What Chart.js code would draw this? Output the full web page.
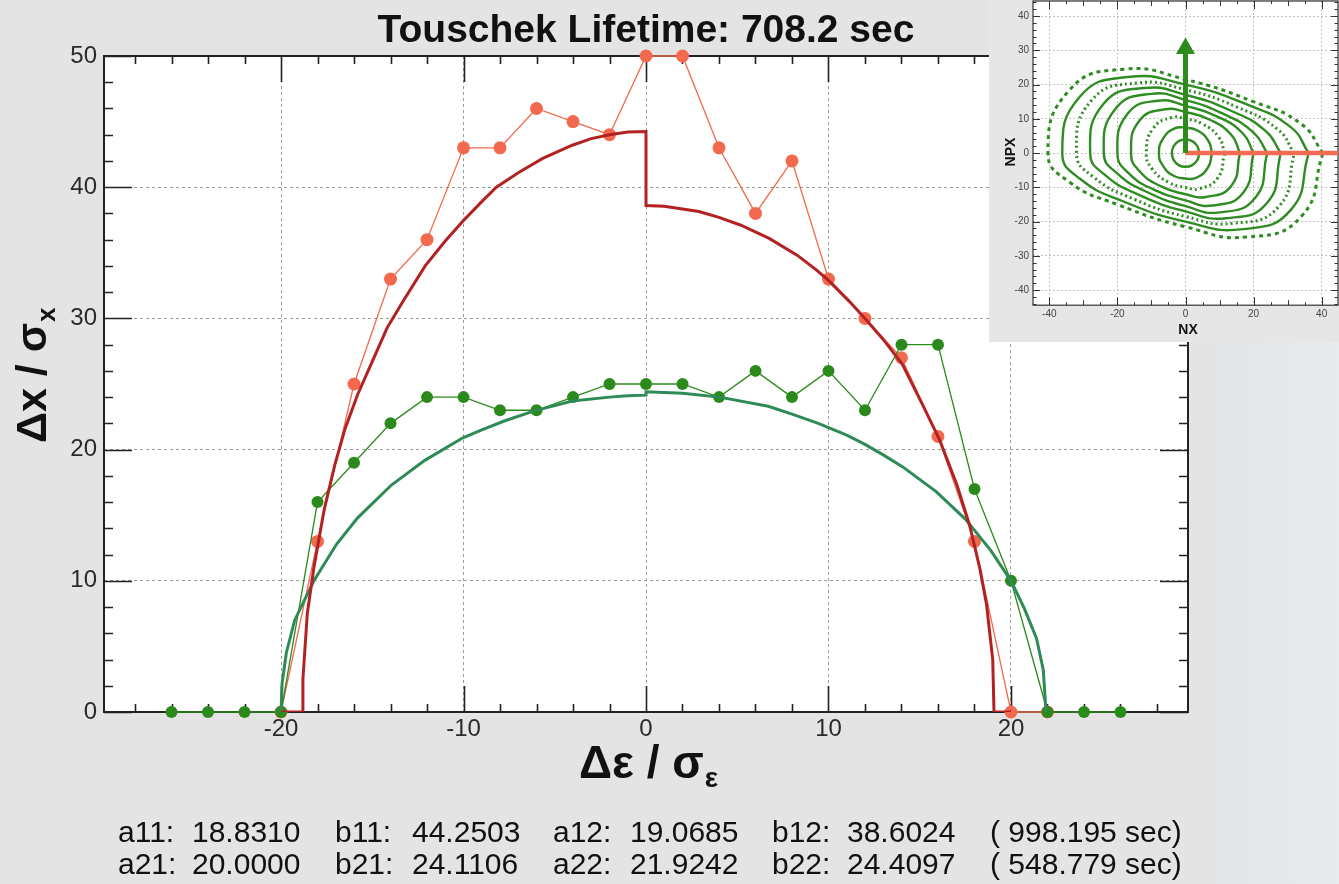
<!DOCTYPE html>
<html>
<head>
<meta charset="utf-8">
<script src="https://cdn.jsdelivr.net/npm/chart.js@4.4.1/dist/chart.umd.min.js"></script>
<style>
  html, body { margin: 0; padding: 0; background: #e4e4e4; overflow: hidden; }
  #wrap { position: relative; width: 1339px; height: 884px; }
  #glare { position: absolute; left: 1217px; top: 0; width: 122px; height: 884px;
           background: linear-gradient(to right, #e3e5e9, #e9eaed); }
  #main { position: absolute; left: 0; top: 0; }
  #inset { position: absolute; left: 989px; top: -10px; }
</style>
</head>
<body>
<div id="wrap">
  <div id="glare"></div>
  <canvas id="main" width="1339" height="884"></canvas>
  <canvas id="inset" width="360" height="352"></canvas>
</div>
<script>
// ---------------------------------------------------------------
// Datos
// ---------------------------------------------------------------
const FONT = '"Liberation Sans", Arial, Helvetica, sans-serif';

const epsTicks = [-20, -10, 0, 10, 20];
const dxTicks = [0, 10, 20, 30, 40, 50];

// centros de los bins en Δε/σε
const binCenters = [-26, -24, -22, -20, -18, -16, -14, -12, -10, -8, -6, -4, -2, 0,
                    2, 4, 6, 8, 10, 12, 14, 16, 18, 20, 22, 24, 26];
// apertura medida (puntos rojos) y (puntos verdes)
const apertureRed = [null, null, null, 0, 13, 25, 33, 36, 43, 43, 46, 45, 44, 50,
                     50, 43, 38, 42, 33, 30, 27, 21, 13, 0, 0, null, null];
const apertureGreen = [0, 0, 0, 0, 16, 19, 22, 24, 24, 23, 23, 24, 25, 25,
                       25, 24, 26, 24, 26, 23, 28, 28, 17, 10, 0, 0, 0];

// curvas ajustadas (leídas punto a punto)
const fitRedX = [-20, -18.83, -18.8, -18.56, -18.2, -17.64, -17.06, -16.49, -15.8, -15.1,
                 -14.18, -13.27, -12.1, -11, -10.04, -9, -8.2, -7, -5.66, -4.04,
                 -3, -2, -1, 0, 0, 1, 2.9, 4, 5.2, 6.75,
                 8.3, 9.33, 10, 11.14, 12, 13, 14.05, 15.2, 16.1, 17.04,
                 17.74, 18.3, 18.66, 19, 19.07, 20];
const fitRedY = [0, 0, 2.5, 7.5, 11, 15.4, 18.8, 21.6, 24.2, 26.4,
                 29.3, 31.4, 34, 35.9, 37.4, 38.9, 40, 41.1, 42.2, 43.2,
                 43.7, 44, 44.2, 44.25, 38.6, 38.55, 38.15, 37.7, 37.1, 36.1,
                 34.8, 33.7, 32.9, 31.3, 30, 28.4, 26.5, 23.3, 20.7, 17.3,
                 14.2, 10.9, 8.2, 4, 0, 0];
const fitGreenX = [-20, -19.94, -19.71, -19.25, -18.2, -16.95, -15.8, -13.95, -12.1, -10.03,
                   -9, -7.73, -6.12, -5, -4.04, -2, -1, 0, 0, 2,
                   4.03, 6.7, 8, 9.44, 11, 12, 13, 14.05, 15.9, 17.5,
                   18.9, 20, 20.73, 21.4, 21.77, 21.92];
const fitGreenY = [0, 2.2, 4.5, 7, 10, 12.8, 14.8, 17.3, 19.2, 20.9,
                   21.5, 22.2, 22.95, 23.35, 23.7, 24, 24.1, 24.15, 24.4, 24.3,
                   24, 23.3, 22.7, 22, 21.1, 20.4, 19.6, 18.7, 16.8, 14.7,
                   12.3, 10, 7.9, 5.6, 3.2, 0];

const fitNames = [['a11', 'b11', 'a12', 'b12'], ['a21', 'b21', 'a22', 'b22']];
const fitValues = [[18.8310, 44.2503, 19.0685, 38.6024], [20.0000, 24.1106, 21.9242, 24.4097]];
const lifetimes = [998.195, 548.779];
const touschek = 708.2;

// inserto: espacio de fases (NX, NPX)
const phaseTicksX = [-40, -20, 0, 20, 40];
const phaseTicksY = [-40, -30, -20, -10, 0, 10, 20, 30, 40];
const ring1 = [[4,0],[3.5,2],[2,3.5],[0,4],[-2,3.5],[-3.5,2],[-4,0],[-3.5,-2],[-2,-3.5],[0,-4],[2,-3.5],[3.5,-2],[4,0]];
const ring2 = [[7.8,0],[6.7,3.6],[3.5,6.6],[0,7.4],[-3.2,7.2],[-6.6,4.2],[-7.8,0],[-6.7,-3.6],[-3.5,-6.6],[0,-7.4],[3.2,-7.2],[6.6,-4.2],[7.8,0]];
const ring3 = [[11.5,0],[9.8,4.6],[5,8.5],[0,10],[-4,10.4],[-9.5,7.2],[-11.5,0],[-9.8,-4.6],[-5,-8.5],[0,-10],[4,-10.4],[9.5,-7.2],[11.5,0]];
const ring4 = [[16,0],[13.5,5.3],[7,9.8],[0,12],[-6,12.8],[-13.5,9.5],[-16,0],[-13.5,-5.3],[-7,-9.8],[0,-12],[6,-12.8],[13.5,-9.5],[16,0]];
const ring5 = [[20,0],[16.8,5.8],[9,10.8],[0,13.8],[-8,15.3],[-17,11.5],[-20,0],[-16.8,-5.8],[-9,-10.8],[0,-13.8],[8,-15.3],[17,-11.5],[20,0]];
const ring6 = [[24,0],[20,6],[11,11.5],[0,15.5],[-10,17.3],[-20.5,13],[-24,0],[-20,-6],[-11,-11.5],[0,-15.5],[10,-17.3],[20.5,-13],[24,0]];
const ring7 = [[28,0],[23.5,6.5],[13,12.5],[0,17],[-12,19],[-24,14.5],[-28,0],[-23.5,-6.5],[-13,-12.5],[0,-17],[12,-19],[24,-14.5],[28,0]];
const ring8 = [[32,0],[27,7],[15,13.5],[0,18.5],[-14,20.5],[-27.5,15.5],[-32,0],[-27,-7],[-15,-13.5],[0,-18.5],[14,-20.5],[27.5,-15.5],[32,0]];
const ring9 = [[36.2,0],[31,7.5],[18,14.2],[0,20],[-17,22.2],[-31,16.5],[-36.2,0],[-31,-7.5],[-18,-14.2],[0,-20],[17,-22.2],[31,-16.5],[36.2,0]];
const ring10 = [[40.4,0],[34,8.5],[20,15],[0,21.5],[-18,24.5],[-34,18.5],[-40.4,0],[-34,-8.5],[-20,-15],[0,-21.5],[18,-24.5],[34,-18.5],[40.4,0]];
const rings = [ring1, ring2, ring3, ring4, ring5, ring6, ring7, ring8, ring9, ring10];
const ringDotted = [false, false, true, false, false, false, false, true, false, true];
const arrowTop = 29;
const arrowHead = 30.5;
const kickEnd = 45;

function pts(xs, ys) {
    return xs.map((x, i) => ({ x: x, y: ys[i] }));
}

// ---------------------------------------------------------------
// Gráfico principal
// ---------------------------------------------------------------
const mainDeco = {
    id: 'mainDeco',
    beforeDraw(chart) {
        const { ctx, chartArea: a } = chart;
        ctx.save();
        ctx.fillStyle = '#ffffff';
        ctx.fillRect(a.left, a.top, a.right - a.left, a.bottom - a.top);
        ctx.restore();
    },
    beforeDatasetsDraw(chart) {
        const { ctx, chartArea: a } = chart;
        const xs = chart.scales.x, ys = chart.scales.y;
        ctx.save();
        ctx.strokeStyle = '#222';
        ctx.lineWidth = 1.6;
        ctx.beginPath();
        for (let v = -28; v <= 28; v += 2) {
            const px = Math.round(xs.getPixelForValue(v)) + 0.5;
            const len = v % 10 === 0 ? 26 : 8;
            ctx.moveTo(px, a.bottom); ctx.lineTo(px, a.bottom - len);
            ctx.moveTo(px, a.top); ctx.lineTo(px, a.top + len);
        }
        for (let v = 0; v <= 50; v += 2) {
            const py = Math.round(ys.getPixelForValue(v)) + 0.5;
            const len = v % 10 === 0 ? 28 : 9;
            ctx.moveTo(a.left, py); ctx.lineTo(a.left + len, py);
            ctx.moveTo(a.right, py); ctx.lineTo(a.right - len, py);
        }
        ctx.stroke();
        ctx.lineWidth = 2;
        ctx.strokeRect(a.left, a.top, a.right - a.left, a.bottom - a.top);
        ctx.restore();
    },
    afterDraw(chart) {
        const ctx = chart.ctx;
        ctx.save();
        ctx.fillStyle = '#111';
        ctx.textBaseline = 'alphabetic';

        // título
        ctx.font = 'bold 39px ' + FONT;
        ctx.textAlign = 'center';
        ctx.fillText('Touschek Lifetime: ' + touschek.toFixed(1) + ' sec', 646, 42);

        // título eje X
        ctx.textAlign = 'left';
        ctx.font = 'bold 46px ' + FONT;
        const xMain = 'Δε / σ';
        ctx.fillText(xMain, 579, 778);
        const wx = ctx.measureText(xMain).width;
        ctx.font = 'bold 28px ' + FONT;
        ctx.fillText('ε', 579 + wx + 1, 787);

        // título eje Y (rotado)
        ctx.save();
        ctx.translate(46, 443);
        ctx.rotate(-Math.PI / 2);
        ctx.font = 'bold 43px ' + FONT;
        const yMain = 'Δx / σ';
        ctx.fillText(yMain, 0, 0);
        const wy = ctx.measureText(yMain).width;
        ctx.font = 'bold 26px ' + FONT;
        ctx.fillText('x', wy + 1, 9);
        ctx.restore();

        // parámetros del ajuste
        ctx.font = '30px ' + FONT;
        const nameX = [118, 335, 553, 772];
        const valX = [192, 412, 630, 847];
        const rowY = [842, 874];
        for (let r = 0; r < 2; r++) {
            for (let c = 0; c < 4; c++) {
                ctx.fillText(fitNames[r][c] + ':', nameX[c], rowY[r]);
                ctx.fillText(fitValues[r][c].toFixed(4), valX[c], rowY[r]);
            }
            ctx.fillText('( ' + lifetimes[r].toFixed(3) + ' sec)', 990, rowY[r]);
        }
        ctx.restore();
    }
};

window.graficoPrincipal = new Chart(document.getElementById('main'), {
    type: 'line',
    data: {
        datasets: [
            {
                label: 'ajuste 1',
                data: pts(fitRedX, fitRedY),
                borderColor: '#b22222',
                borderWidth: 3,
                pointRadius: 0,
                tension: 0,
                order: 0
            },
            {
                label: 'ajuste 2',
                data: pts(fitGreenX, fitGreenY),
                borderColor: '#2e8b57',
                borderWidth: 3,
                pointRadius: 0,
                tension: 0,
                order: 1
            },
            {
                label: 'apertura 2',
                data: pts(binCenters, apertureGreen),
                borderColor: '#2c8a1c',
                backgroundColor: '#2c8a1c',
                borderWidth: 1.3,
                pointRadius: 6,
                pointBorderWidth: 0,
                clip: false,
                order: 2
            },
            {
                label: 'apertura 1',
                data: pts(binCenters, apertureRed),
                borderColor: '#f2694e',
                backgroundColor: '#f2694e',
                borderWidth: 1.3,
                pointRadius: 6.5,
                pointBorderWidth: 0,
                clip: false,
                order: 3
            }
        ]
    },
    options: {
        responsive: false,
        animation: false,
        devicePixelRatio: 1,
        layout: { padding: { top: 56, right: 151, left: 0, bottom: 0 } },
        plugins: { legend: { display: false }, tooltip: { enabled: false } },
        scales: {
            x: {
                type: 'linear',
                min: -29.7,
                max: 29.7,
                afterBuildTicks: s => { s.ticks = epsTicks.map(v => ({ value: v })); },
                afterFit: s => { s.height = 172; },
                grid: { color: '#9c9c9c', lineWidth: 1, drawTicks: false },
                border: { display: false, dash: [3, 3] },
                ticks: { font: { family: FONT, size: 24 }, color: '#2a2a2a', padding: 3, maxRotation: 0, autoSkip: false }
            },
            y: {
                type: 'linear',
                min: 0,
                max: 50,
                afterBuildTicks: s => { s.ticks = dxTicks.map(v => ({ value: v })); },
                afterFit: s => { s.width = 104; },
                grid: { color: '#9c9c9c', lineWidth: 1, drawTicks: false },
                border: { display: false, dash: [3, 3] },
                ticks: { font: { family: FONT, size: 24 }, color: '#2a2a2a', padding: 7, autoSkip: false }
            }
        }
    },
    plugins: [mainDeco]
});

// ---------------------------------------------------------------
// Inserto del espacio de fases
// ---------------------------------------------------------------
const insetDeco = {
    id: 'insetDeco',
    beforeDraw(chart) {
        const { ctx, chartArea: a, width, height } = chart;
        ctx.save();
        ctx.fillStyle = '#e6e6e6';
        ctx.fillRect(0, 0, width, height);
        ctx.fillStyle = '#ffffff';
        ctx.fillRect(a.left, a.top, a.right - a.left, a.bottom - a.top);
        ctx.restore();
    },
    beforeDatasetsDraw(chart) {
        const { ctx, chartArea: a } = chart;
        const xs = chart.scales.x, ys = chart.scales.y;
        ctx.save();
        ctx.strokeStyle = '#333';
        ctx.lineWidth = 1;
        ctx.beginPath();
        for (let v = -40; v <= 40; v += 5) {
            const px = Math.round(xs.getPixelForValue(v)) + 0.5;
            const len = v % 20 === 0 ? 8 : (v % 10 === 0 ? 5 : 3);
            ctx.moveTo(px, a.bottom); ctx.lineTo(px, a.bottom - len);
            ctx.moveTo(px, a.top); ctx.lineTo(px, a.top + len);
        }
        for (let v = -44; v <= 44; v += 2) {
            const py = Math.round(ys.getPixelForValue(v)) + 0.5;
            const len = v % 10 === 0 ? 7 : 3.5;
            ctx.moveTo(a.left, py); ctx.lineTo(a.left + len, py);
            ctx.moveTo(a.right, py); ctx.lineTo(a.right - len, py);
        }
        ctx.stroke();
        ctx.lineWidth = 1.2;
        ctx.strokeRect(a.left, a.top, a.right - a.left, a.bottom - a.top);
        ctx.restore();
    },
    afterDraw(chart) {
        const ctx = chart.ctx;
        ctx.save();
        ctx.fillStyle = '#111';
        ctx.font = 'bold 14px ' + FONT;
        ctx.textAlign = 'center';
        ctx.fillText('NX', 199, 344);
        ctx.translate(26, 162);
        ctx.rotate(-Math.PI / 2);
        ctx.fillText('NPX', 0, 0);
        ctx.restore();
    }
};

const ringSets = rings.map((r, i) => ({
    label: 'anillo ' + (i + 1),
    data: r.map(p => ({ x: p[0], y: p[1] })),
    borderColor: '#2f8c22',
    borderWidth: ringDotted[i] ? 3 : 2.4,
    borderDash: ringDotted[i] ? (i === 9 ? [4, 4] : [2, 3]) : [],
    pointRadius: 0,
    tension: 0.5,
    order: 3
}));

window.graficoFases = new Chart(document.getElementById('inset'), {
    type: 'line',
    data: {
        datasets: [
            {
                label: 'flecha',
                data: [{ x: 0, y: 0 }, { x: 0, y: arrowTop }],
                borderColor: '#2e8b1e',
                borderWidth: 5,
                pointRadius: 0,
                order: 0
            },
            {
                label: 'punta',
                data: [{ x: 0, y: arrowHead }],
                showLine: false,
                pointStyle: 'triangle',
                pointRadius: 11,
                pointBorderWidth: 0,
                backgroundColor: '#2e8b1e',
                borderColor: '#2e8b1e',
                order: 0
            },
            {
                label: 'kick',
                data: [{ x: 0, y: 0 }, { x: kickEnd, y: 0 }],
                borderColor: '#f26a50',
                borderWidth: 4.5,
                pointRadius: 0,
                order: 1
            },
            ...ringSets
        ]
    },
    options: {
        responsive: false,
        animation: false,
        devicePixelRatio: 1,
        layout: { padding: { top: 8.8, right: 6, left: 0, bottom: 0 } },
        plugins: { legend: { display: false }, tooltip: { enabled: false } },
        scales: {
            x: {
                type: 'linear',
                min: -44.8,
                max: 44.8,
                afterBuildTicks: s => { s.ticks = phaseTicksX.map(v => ({ value: v })); },
                afterFit: s => { s.height = 36.8; },
                grid: { color: '#c4c4c4', lineWidth: 1, drawTicks: false },
                border: { display: false, dash: [2, 2] },
                ticks: { font: { family: FONT, size: 10 }, color: '#444', padding: 3, maxRotation: 0, autoSkip: false }
            },
            y: {
                type: 'linear',
                min: -44.4,
                max: 44.4,
                afterBuildTicks: s => { s.ticks = phaseTicksY.map(v => ({ value: v })); },
                afterFit: s => { s.width = 44; },
                grid: { color: '#c4c4c4', lineWidth: 1, drawTicks: false },
                border: { display: false, dash: [2, 2] },
                ticks: { font: { family: FONT, size: 10 }, color: '#444', padding: 4, autoSkip: false }
            }
        }
    },
    plugins: [insetDeco]
});
</script>
</body>
</html>
